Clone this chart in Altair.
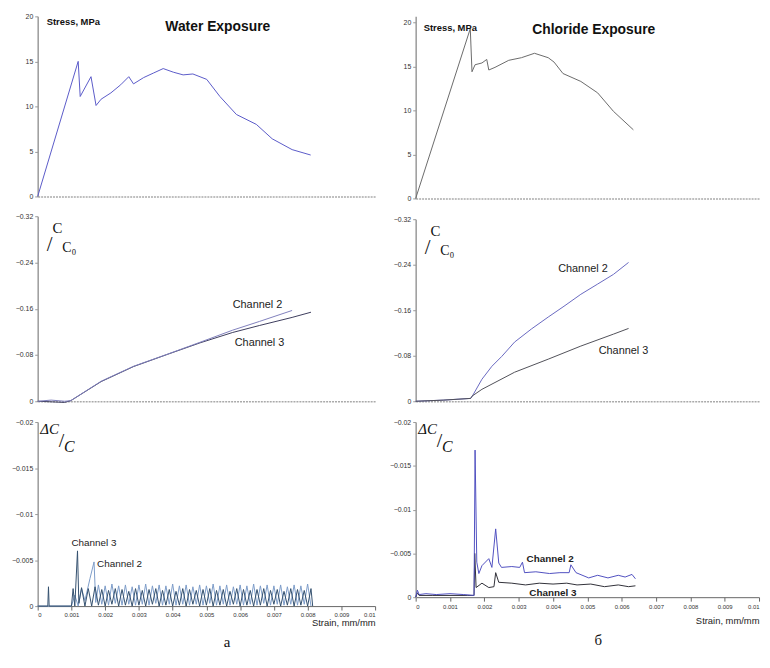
import altair as alt
import pandas as pd

# ---------------- tick values ----------------
TICKS_X = [0, 0.001, 0.002, 0.003, 0.004, 0.005, 0.006, 0.007, 0.008, 0.009, 0.01]
STRESS_TICKS = [0, 5, 10, 15, 20]
CC0_TICKS = [0, -0.08, -0.16, -0.24, -0.32]
DC_TICKS = [0, -0.005, -0.01, -0.015, -0.02]

# ---------------- (a) Water exposure ----------------
WATER_STRAIN = [0, 0.00120, 0.00126, 0.00158, 0.00173, 0.00188, 0.00217, 0.00246, 0.00270,
                0.00284, 0.00314, 0.00343, 0.00372, 0.00402, 0.00431, 0.00460, 0.00501,
                0.00540, 0.00589, 0.00648, 0.00695, 0.00754, 0.00809]
WATER_STRESS = [0, 15.0, 11.1, 13.3, 10.1, 10.8, 11.5, 12.4, 13.3, 12.5, 13.2, 13.7, 14.2,
                13.8, 13.5, 13.6, 13.0, 11.1, 9.1, 8.0, 6.4, 5.2, 4.6]

W_CC0_CH2_STRAIN = [0, 0.0004, 0.0008, 0.00098, 0.00188, 0.00284, 0.00384, 0.00481, 0.00578,
                    0.00657, 0.00754]
W_CC0_CH2 = [0, -0.002, 0.0, -0.001, -0.0346, -0.0605, -0.0813, -0.102, -0.123, -0.138, -0.157]
W_CC0_CH3_STRAIN = [0, 0.0004, 0.0008, 0.00098, 0.00188, 0.00284, 0.00384, 0.00481, 0.00578,
                    0.00657, 0.00754, 0.0081]
W_CC0_CH3 = [0, 0.001, 0.002, -0.001, -0.034, -0.060, -0.081, -0.101, -0.119, -0.131, -0.145, -0.154]

ZZ_STRAIN = [0.0018, 0.0019, 0.0020, 0.0021, 0.0022, 0.0023, 0.0024, 0.0025, 0.0026, 0.0027,
             0.0028, 0.0029, 0.0030, 0.0031, 0.0032, 0.0033, 0.0034, 0.0035, 0.0036, 0.0037,
             0.0038, 0.0039, 0.0040, 0.0041, 0.0042, 0.0043, 0.0044, 0.0045, 0.0046, 0.0047,
             0.0048, 0.0049, 0.0050, 0.0051, 0.0052, 0.0053, 0.0054, 0.0055, 0.0056, 0.0057,
             0.0058, 0.0059, 0.0060, 0.0061, 0.0062, 0.0063, 0.0064, 0.0065, 0.0066, 0.0067,
             0.0068, 0.0069, 0.0070, 0.0071, 0.0072, 0.0073, 0.0074, 0.0075, 0.0076, 0.0077,
             0.0078, 0.0079, 0.0080, 0.0081]
CH2_ZZ = [-0.0023, -0.0002, -0.0022, -0.0001, -0.0024, -0.0003, -0.0022, -0.0001, -0.0023, -0.0002,
          -0.0021, -0.0001, -0.0023, -0.0002, -0.0024, -0.0001, -0.0022, -0.0003, -0.0023, -0.0001,
          -0.0022, -0.0002, -0.0024, -0.0001, -0.0022, -0.0002, -0.0023, -0.0001, -0.0021, -0.0002,
          -0.0023, -0.0001, -0.0022, -0.0003, -0.0024, -0.0001, -0.0022, -0.0002, -0.0023, -0.0001,
          -0.0021, -0.0002, -0.0023, -0.0001, -0.0022, -0.0002, -0.0024, -0.0001, -0.0022, -0.0003,
          -0.0023, -0.0001, -0.0022, -0.0002, -0.0023, -0.0001, -0.0021, -0.0002, -0.0023, -0.0001,
          -0.0022, -0.0002, -0.0024, 0.0]
CH3_ZZ = [-0.0001, -0.0018, 0.0, -0.0017, -0.0002, -0.0019, 0.0, -0.0018, -0.0001, -0.0016,
          0.0, -0.0019, -0.0001, -0.0017, 0.0, -0.0018, -0.0002, -0.0019, 0.0, -0.0017,
          -0.0001, -0.0018, 0.0, -0.0016, -0.0001, -0.0019, 0.0, -0.0018, -0.0002, -0.0017,
          0.0, -0.0018, -0.0001, -0.0019, 0.0, -0.0017, -0.0001, -0.0018, 0.0, -0.0016,
          -0.0002, -0.0019, 0.0, -0.0018, -0.0001, -0.0017, 0.0, -0.0018, -0.0001, -0.0019,
          0.0, -0.0017, -0.0002, -0.0018, 0.0, -0.0016, -0.0001, -0.0019, 0.0, -0.0018,
          -0.0001, -0.0017, 0.0, -0.0019]

W_DC_CH2_STRAIN = [0, 0.001, 0.0011, 0.0012, 0.0013, 0.0014, 0.00155, 0.00167, 0.00172] + ZZ_STRAIN
W_DC_CH2 = [0, 0, -0.0012, 0, -0.0019, -0.0006, -0.0030, -0.0048, -0.0004] + CH2_ZZ
W_DC_CH3_STRAIN = [0, 0.0003, 0.00032, 0.00034, 0.001, 0.00105, 0.0011, 0.00118, 0.00122,
                   0.0013, 0.0014, 0.0015, 0.0016, 0.0017] + ZZ_STRAIN + [0.00815]
W_DC_CH3 = [0, 0, -0.0021, 0, 0, -0.0019, 0, -0.0060, -0.0003, -0.0020, 0, -0.0019, 0,
            -0.0021] + CH3_ZZ + [0.0]

# ---------------- (б) Chloride exposure ----------------
CHL_STRAIN = [0, 0.00159, 0.00164, 0.00173, 0.00193, 0.00207, 0.00213, 0.00231, 0.00271,
              0.00308, 0.00346, 0.00386, 0.00403, 0.00429, 0.00481, 0.00530, 0.00576, 0.00634]
CHL_STRESS = [0, 19.3, 14.4, 15.2, 15.4, 15.8, 14.6, 14.9, 15.7, 16.0, 16.5, 16.0, 15.5, 14.2,
              13.3, 12.0, 9.9, 7.8]

C_CC0_CH2_STRAIN = [0, 0.0008, 0.0016, 0.00164, 0.00193, 0.00222, 0.00251, 0.00288, 0.00337,
                    0.00386, 0.00432, 0.00481, 0.0053, 0.00576, 0.0062]
C_CC0_CH2 = [0, -0.002, -0.005, -0.008, -0.0387, -0.0615, -0.079, -0.104, -0.127, -0.148,
             -0.167, -0.188, -0.206, -0.223, -0.244]
C_CC0_CH3_STRAIN = [0, 0.0008, 0.0016, 0.00164, 0.00193, 0.00288, 0.00386, 0.00481, 0.00576, 0.0062]
C_CC0_CH3 = [0, -0.002, -0.005, -0.009, -0.021, -0.051, -0.074, -0.097, -0.118, -0.128]

C_DC_CH2_STRAIN = [0, 0.00005, 0.0001, 0.0003, 0.0006, 0.001, 0.0014, 0.0017, 0.00173, 0.00178,
                   0.00184, 0.00193, 0.00213, 0.00222, 0.00233, 0.00242, 0.0025, 0.0028, 0.00303,
                   0.00311, 0.00317, 0.0035, 0.0039, 0.0042, 0.00447, 0.00452, 0.00467, 0.00504,
                   0.0053, 0.0056, 0.0059, 0.0061, 0.0063, 0.0064]
C_DC_CH2 = [0, -0.0008, -0.0003, -0.0004, -0.0003, -0.0004, -0.0003, -0.0002, -0.0168, -0.0040,
            -0.0027, -0.0036, -0.0044, -0.0034, -0.0078, -0.0039, -0.0034, -0.0035, -0.0034,
            -0.0040, -0.0028, -0.0029, -0.0027, -0.0028, -0.0028, -0.0037, -0.0028, -0.0022,
            -0.0025, -0.0022, -0.0025, -0.0023, -0.0026, -0.0021]
C_DC_CH3_STRAIN = [0, 0.00005, 0.0001, 0.0005, 0.001, 0.0015, 0.0017, 0.00172, 0.00176, 0.00193,
                   0.00213, 0.00228, 0.00233, 0.00242, 0.0028, 0.0032, 0.0036, 0.0040, 0.0044,
                   0.0047, 0.0051, 0.0055, 0.0059, 0.0062, 0.0064]
C_DC_CH3 = [0, -0.0005, -0.0002, -0.0002, -0.0002, -0.0002, -0.0002, -0.0050, -0.0011, -0.0016,
            -0.0011, -0.0012, -0.0028, -0.0017, -0.0016, -0.0014, -0.0016, -0.0015, -0.0016,
            -0.0014, -0.0015, -0.0012, -0.0014, -0.0012, -0.0013]

# channel label anchors (strain, value)
W_CC0_LABEL = {"strain": [0.00578, 0.00584], "v": [-0.166, -0.100], "t": ["Channel 2", "Channel 3"]}
C_CC0_LABEL = {"strain": [0.00415, 0.00533], "v": [-0.232, -0.088], "t": ["Channel 2", "Channel 3"]}
W_DC_LABEL = {"strain": [0.0010, 0.00176], "v": [-0.0068, -0.0046], "t": ["Channel 3", "Channel 2"]}
C_DC_LABEL = {"strain": [0.00323, 0.00331], "v": [-0.0043, -0.0005], "t": ["Channel 2", "Channel 3"]}

FONT = "Liberation Sans"
SERIF = "Liberation Serif"


def xaxis_plain():
    return alt.Axis(labels=False, ticks=False, title=None, grid=False,
                    domainColor="#aaaaaa", domainDash=[2, 1], domainWidth=1.5)


def xaxis_strain(title_pad, label_pad):
    return alt.Axis(values=TICKS_X, format="~g", labelFontSize=6, labelColor="#333333",
                    labelFont=FONT, tickSize=4, tickColor="#666666", domainColor="#666666",
                    domainWidth=1, grid=False, title="Strain, mm/mm", titleAnchor="end",
                    titleFont=FONT, titleFontSize=9.5, titleFontWeight="normal",
                    titleColor="#222222", titlePadding=title_pad, labelPadding=label_pad)


def yaxis(ticks):
    return alt.Axis(values=ticks, format="~g", labelFontSize=7, labelColor="#333333",
                    labelFont=FONT, tickSize=3, tickColor="#999999", domainColor="#999999",
                    domainWidth=1.5, grid=False, title=None, minExtent=24, maxExtent=24,
                    labelPadding=2)


def series(strain, vals, color, xs, ys, xax, yax, width=1.0):
    df = pd.DataFrame({"strain": strain, "v": vals, "i": list(range(len(strain)))})
    return alt.Chart(df).mark_line(color=color, strokeWidth=width).encode(
        x=alt.X("strain:Q", scale=xs, axis=xax),
        y=alt.Y("v:Q", scale=ys, axis=yax),
        order="i:Q",
    )


def chan_labels(d, xs, ys, xax, yax, size, weight="normal"):
    df = pd.DataFrame(d)
    return alt.Chart(df).mark_text(align="left", baseline="middle", font=FONT, fontSize=size,
                                   fontWeight=weight, color="#222222").encode(
        x=alt.X("strain:Q", scale=xs, axis=xax),
        y=alt.Y("v:Q", scale=ys, axis=yax),
        text="t:N",
    )


def fixed_text(text, px, py, size, font=FONT, weight="normal", style="normal", color="#111111"):
    df = pd.DataFrame({"t": [text]})
    return alt.Chart(df).mark_text(font=font, fontSize=size, fontWeight=weight, fontStyle=style,
                                   align="center", baseline="middle", color=color).encode(
        x=alt.value(px), y=alt.value(py), text="t:N")


def column(W, H, stress_dom, strain_s, stress_v, stress_color, cc0, dc, title_txt, title_pos,
           stress_pos, cc0_lab, dc_lab, cc0_size, dc_size, dc_weight, xtitle_pad, spacing,
           cap, cap_dx):
    xs = alt.Scale(domain=[0, 0.01], nice=False)
    # top
    ys1 = alt.Scale(domain=stress_dom, nice=False, zero=False)
    xa, ya = xaxis_plain(), yaxis(STRESS_TICKS)
    top = alt.layer(
        series(strain_s, stress_v, stress_color, xs, ys1, xa, ya),
        fixed_text("Stress, MPa", stress_pos[0], stress_pos[1], 9.5, weight="bold"),
        fixed_text(title_txt, title_pos[0], title_pos[1], 14, weight="bold"),
    ).properties(width=W, height=H[0])
    # middle
    ys2 = alt.Scale(domain=[-0.32, 0], reverse=True, nice=False, zero=False)
    ya2 = yaxis(CC0_TICKS)
    mid = alt.layer(
        series(cc0[0], cc0[1], cc0[4], xs, ys2, xa, ya2),
        series(cc0[2], cc0[3], cc0[5], xs, ys2, xa, ya2),
        chan_labels(cc0_lab, xs, ys2, xa, ya2, cc0_size),
        fixed_text("C", 20, 12, 15, font=SERIF),
        fixed_text("/", 12, 29, 21, font=SERIF),
        fixed_text("C₀", 32, 32, 14, font=SERIF),
    ).properties(width=W, height=H[1])
    # bottom
    ys3 = alt.Scale(domain=[-0.02, 0], reverse=True, nice=False, zero=False)
    ya3 = yaxis(DC_TICKS)
    xa3 = xaxis_strain(xtitle_pad, 2)
    bot = alt.layer(
        series(dc[0], dc[1], dc[4], xs, ys3, xa3, ya3),
        series(dc[2], dc[3], dc[5], xs, ys3, xa3, ya3),
        chan_labels(dc_lab, xs, ys3, xa3, ya3, dc_size, dc_weight),
        fixed_text("ΔC", 12, 7, 15, font=SERIF, style="italic"),
        fixed_text("/", 24, 19, 20, font=SERIF),
        fixed_text("C", 32, 25, 16, font=SERIF, style="italic"),
    ).properties(width=W, height=H[2])
    return alt.vconcat(top, mid, bot, spacing=spacing,
                       title=alt.TitleParams(cap, orient="bottom", anchor="middle", font=SERIF,
                                             fontSize=15, fontWeight="normal", color="#111111",
                                             offset=8, dx=cap_dx))


colA = column(
    341, [182, 187, 186], [0, 20], WATER_STRAIN, WATER_STRESS, "#5a5ac8",
    [W_CC0_CH3_STRAIN, W_CC0_CH3, W_CC0_CH2_STRAIN, W_CC0_CH2, "#3c3c5c", "#8080bc"],
    [W_DC_CH2_STRAIN, W_DC_CH2, W_DC_CH3_STRAIN, W_DC_CH3, "#7c9cc8", "#34506e"],
    "Water Exposure", (182, 11), (36, 6), W_CC0_LABEL, W_DC_LABEL, 11, 10, "normal", 0, 13,
    "а", 34)

colB = column(
    347, [184, 184, 177], [0, 20.7], CHL_STRAIN, CHL_STRESS, "#6a6a6a",
    [C_CC0_CH2_STRAIN, C_CC0_CH2, C_CC0_CH3_STRAIN, C_CC0_CH3, "#6868c0", "#505058"],
    [C_DC_CH3_STRAIN, C_DC_CH3, C_DC_CH2_STRAIN, C_DC_CH2, "#303038", "#5050c0"],
    "Chloride Exposure", (180, 14), (35, 12), C_CC0_LABEL, C_DC_LABEL, 11, 10, "bold", 7, 14,
    "б", 24)

chart = alt.hconcat(colA, colB, spacing=13).properties(
    padding={"left": 3, "top": 1, "right": 2, "bottom": 2},
    background="white",
).configure_view(stroke=None)

chart.save("out.html", embed_options={"renderer": "svg", "actions": False})
